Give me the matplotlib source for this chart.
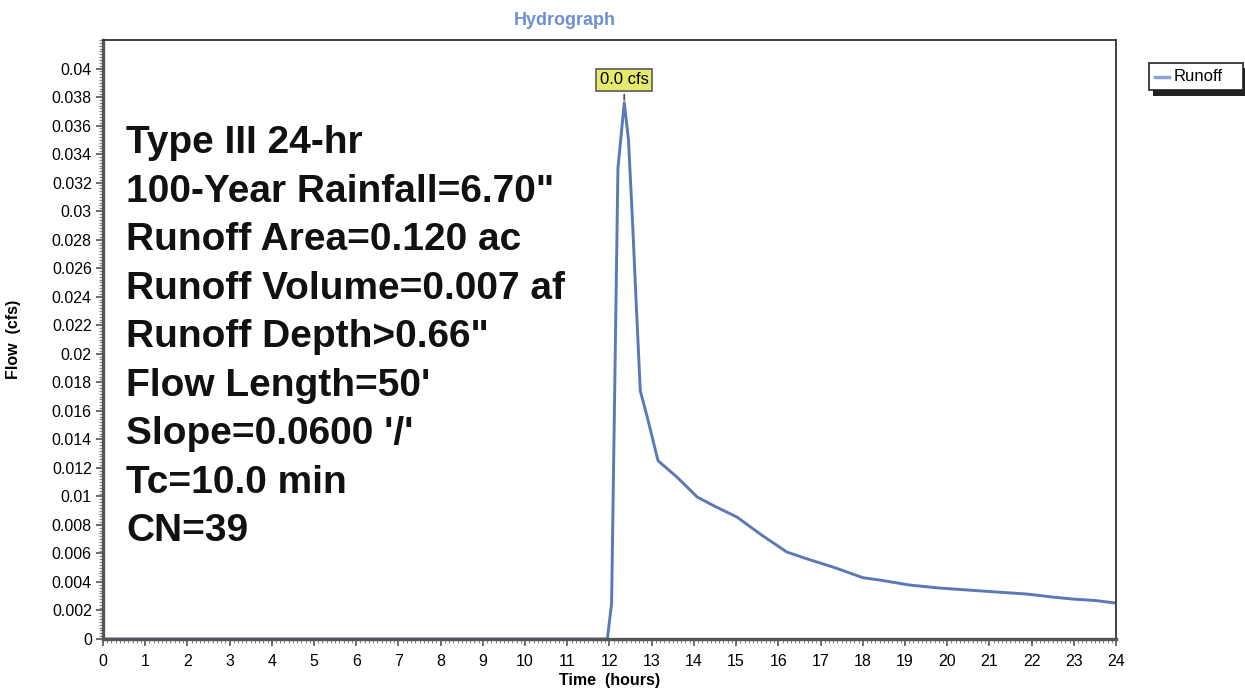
import matplotlib
matplotlib.use("Agg")
import matplotlib.pyplot as plt
from matplotlib.ticker import MultipleLocator
from matplotlib.patches import Rectangle

plt.rcParams["font.family"] = ["Liberation Sans", "DejaVu Sans"]

# Runoff hydrograph, time in hours and flow in cfs
hours = [0, 11.95, 12.05, 12.2, 12.35, 12.45, 12.55, 12.63, 12.73, 12.9, 13.15,
         13.6, 14.08, 14.5, 15.02, 15.6, 16.2, 16.7, 17.3, 17.7, 18.0, 18.41,
         19.12, 19.83, 20.85, 21.9, 22.5, 22.98, 23.5, 24.0]
flow = [0, 0, 0.0025, 0.033, 0.0376, 0.035, 0.029, 0.0237, 0.0174, 0.0155, 0.0125,
        0.01135, 0.00995, 0.0093, 0.00855, 0.0073, 0.0061, 0.0056, 0.00504, 0.00462,
        0.0043, 0.00413, 0.00378, 0.00357, 0.00336, 0.00315, 0.00294, 0.0028,
        0.0027, 0.00252]

peak_label = "0.0 cfs"
info_lines = [
    "Type III 24-hr",
    '100-Year Rainfall=6.70"',
    "Runoff Area=0.120 ac",
    "Runoff Volume=0.007 af",
    'Runoff Depth>0.66"',
    "Flow Length=50'",
    "Slope=0.0600 '/'",
    "Tc=10.0 min",
    "CN=39",
]
x_ticks = list(range(0, 25))
y_ticks = [i * 0.002 for i in range(0, 21)]
y_tick_labels = ["0"] + [f"{v:.3f}".rstrip("0") for v in y_ticks[1:]]

line_color = "#5a79b6"

fig = plt.figure(figsize=(12.45, 6.9), dpi=100)
ax = fig.add_axes([0.0827, 0.0739, 0.8137, 0.8681])

ax.plot(hours, flow, color=line_color, lw=2.1, solid_joinstyle="round")

ax.set_xlim(0, 24)
ax.set_ylim(0, 0.042)
ax.set_xticks(x_ticks)
ax.set_xticklabels([str(t) for t in x_ticks])
ax.set_yticks(y_ticks)
ax.set_yticklabels(y_tick_labels)
ax.xaxis.set_minor_locator(MultipleLocator(0.1))
ax.yaxis.set_minor_locator(MultipleLocator(0.0002))
ax.tick_params(axis="both", which="major", labelsize=11.5, length=5, width=1.2,
               color="#555555", direction="out")
ax.tick_params(axis="x", which="major", pad=6)
ax.tick_params(axis="y", which="major", pad=3)
ax.tick_params(axis="both", which="minor", length=3, width=0.8, color="#888888",
               direction="out")

for side in ("left", "bottom"):
    ax.spines[side].set_linewidth(2.4)
    ax.spines[side].set_color("#555555")
for side in ("top", "right"):
    ax.spines[side].set_linewidth(1.3)
    ax.spines[side].set_color("#333333")

ax.set_xlabel("Time  (hours)", fontsize=11.5, fontweight="bold", labelpad=3)
ax.set_ylabel("Flow  (cfs)", fontsize=11.5, fontweight="bold", labelpad=22)

# peak flag
peak_i = flow.index(max(flow))
ax.annotate(peak_label, xy=(hours[peak_i], flow[peak_i]), xytext=(hours[peak_i], 0.0392),
            ha="center", va="center", fontsize=12,
            bbox=dict(boxstyle="square,pad=0.22", fc="#e6ea6a", ec="#666666", lw=1.3),
            arrowprops=dict(arrowstyle="-", color="#555555", lw=1.3))

# storm / catchment summary
for i, txt in enumerate(info_lines):
    ax.text(0.023, 0.828 - i * 0.081, txt, transform=ax.transAxes, fontsize=28,
            fontweight="bold", color="#111111", va="center", ha="left")

fig.text(0.454, 0.971, "Hydrograph", ha="center", va="center", fontsize=13,
         fontweight="bold", color="#6f8fcc")

# legend with a drop shadow
fig.patches.append(Rectangle((0.9265, 0.861), 0.0755, 0.040, transform=fig.transFigure,
                             fc="#222222", ec="none", zorder=1))
fig.patches.append(Rectangle((0.9225, 0.869), 0.0755, 0.040, transform=fig.transFigure,
                             fc="white", ec="#222222", lw=1.2, zorder=2))
fig.lines.append(plt.Line2D([0.928, 0.939], [0.889, 0.889], transform=fig.transFigure,
                            color="#8aa3d6", lw=2.5, zorder=3))
fig.text(0.943, 0.889, "Runoff", fontsize=12, va="center", ha="left", zorder=3)

fig.savefig("out.png", dpi=100)
